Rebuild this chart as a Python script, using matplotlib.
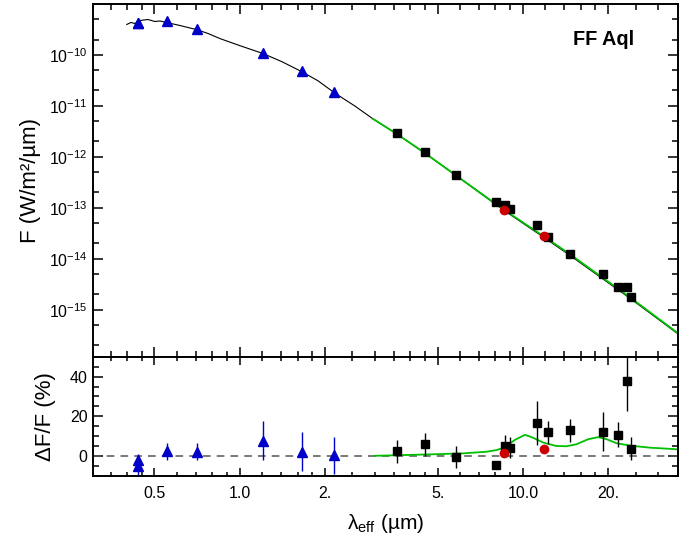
import matplotlib
matplotlib.use("Agg")
import matplotlib.pyplot as plt
import numpy as np

plt.rcParams['font.family'] = ['Liberation Sans', 'DejaVu Sans']
plt.rcParams['mathtext.fontset'] = 'custom'
plt.rcParams['mathtext.rm'] = 'Liberation Sans'
plt.rcParams['mathtext.it'] = 'Liberation Sans:italic'

# photosphere model (black)
lam_phot = [0.399, 0.413, 0.427, 0.444, 0.474, 0.502, 0.523, 0.552, 0.616, 0.667,
            0.703, 0.774, 0.851, 1.00, 1.21, 1.41, 1.65, 1.89, 2.17, 2.55, 2.96,
            3.58, 4.51, 5.80, 8.57, 11.89, 14.74, 24.05, 35.16]
f_phot = [3.94e-10, 4.32e-10, 4.12e-10, 4.72e-10, 4.94e-10, 4.51e-10, 4.62e-10, 4.31e-10,
          3.76e-10, 3.37e-10, 3.14e-10, 2.62e-10, 2.09e-10, 1.52e-10, 1.06e-10, 7.34e-11,
          4.73e-11, 3.10e-11, 1.77e-11, 9.93e-12, 5.52e-12,
          2.83e-12, 1.18e-12, 4.31e-13, 8.90e-14, 2.60e-14, 1.14e-14, 1.63e-15, 3.41e-16]

# model with envelope (green)
lam_env = [2.96, 3.58, 4.51, 5.80, 8.57, 11.89, 14.74, 24.05, 35.16]
f_env = [5.52e-12, 2.83e-12, 1.18e-12, 4.33e-13, 9.14e-14, 2.72e-14, 1.20e-14, 1.70e-15, 3.52e-16]

# visible / near-IR photometry (blue triangles)
lam_tri = [0.4386, 0.4386, 0.552, 0.705, 1.211, 1.655, 2.156]
f_tri = [4.28e-10, 4.16e-10, 4.55e-10, 3.18e-10, 1.09e-10, 4.88e-11, 1.90e-11]
res_tri = [-2.2, -4.8, 2.5, 2.2, 7.8, 2.2, 0.5]
err_tri = [3.5, 4.5, 4.3, 4.3, 10.0, 9.7, 9.3]

# infrared photometry (black squares)
lam_sq = [3.58, 4.51, 5.80, 8.01, 8.62, 9.00, 11.2, 12.3, 14.7, 19.2, 21.6, 23.3, 24.05]
f_sq = [2.92e-12, 1.22e-12, 4.48e-13, 1.29e-13, 1.11e-13, 9.55e-14, 4.54e-14, 2.63e-14,
        1.24e-14, 5.06e-15, 2.77e-15, 2.77e-15, 1.76e-15]
res_sq = [2.5, 6.0, -0.4, -4.6, 5.3, 4.2, 16.7, 11.9, 12.9, 12.3, 10.7, 37.8, 3.8]
err_sq = [5.8, 5.8, 5.5, 1.5, 5.5, 5.3, 11.0, 6.0, 6.0, 9.8, 6.3, 15.0, 5.6]

# red circles
lam_red = [8.57, 11.9]
f_red = [9.25e-14, 2.80e-14]
res_red = [1.7, 3.7]
err_red = [1.5, 1.5]

# residual of envelope model (green, lower panel)
lam_gres = [2.99, 4.70, 6.16, 7.44, 8.08, 8.64, 9.37, 10.16, 10.73, 11.8, 13.1, 14.26,
            15.47, 17.0, 18.45, 19.74, 21.4, 23.9, 28.1, 35.16]
gres = [0.15, 0.87, 1.38, 2.19, 3.06, 4.44, 8.16, 10.7, 9.54, 6.8, 5.1, 4.95,
        5.97, 8.5, 9.54, 8.5, 6.48, 5.27, 4.24, 3.42]

xmajor = [0.5, 1.0, 2.0, 5.0, 10.0, 20.0]
xlabels = ["0.5", "1.0", "2.", "5.", "10.0", "20."]
xminor = [0.35, 0.4, 0.45, 0.6, 0.7, 0.8, 0.9, 1.2, 1.4, 1.6, 1.8, 2.5, 3, 3.5, 4, 4.5,
          6, 7, 8, 9, 12, 14, 16, 18, 25, 30]

blue = '#0000c8'
red = '#cc0000'
green = '#00c000'

fig = plt.figure(figsize=(6.96, 5.42), dpi=100)
ax1 = fig.add_axes([0.134, 0.3419, 0.8397, 0.6501])
ax2 = fig.add_axes([0.134, 0.1218, 0.8397, 0.2201], sharex=ax1)

ax1.plot(lam_phot, f_phot, color='black', lw=0.8)
ax1.plot(lam_env, f_env, color=green, lw=1.3)
ax1.plot(lam_tri, f_tri, '^', color=blue, ms=7.5, mec=blue)
ax1.plot(lam_sq, f_sq, 's', color='black', ms=5.5)
ax1.plot(lam_red, f_red, 'o', color=red, ms=6)
ax1.set_xscale('log')
ax1.set_yscale('log')
ax1.set_xlim(0.304, 35.2)
ax1.set_ylim(1.2e-16, 9.8e-10)
ax1.set_yticks([1e-15, 1e-14, 1e-13, 1e-12, 1e-11, 1e-10])
ax1.set_yticklabels([r"$10^{-15}$", r"$10^{-14}$", r"$10^{-13}$",
                     r"$10^{-12}$", r"$10^{-11}$", r"$10^{-10}$"])
ax1.set_yticks([m * 10.0 ** e for e in range(-16, -9) for m in (2, 5)], minor=True)
ax1.set_ylabel("F (W/m²/µm)", fontsize=16, labelpad=6)
ax1.text(0.873, 0.901, "FF Aql", transform=ax1.transAxes, fontsize=14.3,
         fontweight='bold', ha='center', va='center')

ax2.axhline(0, color='#555555', ls=(0, (5, 4)), lw=1.1)
ax2.plot(lam_gres, gres, color=green, lw=1.3)
ax2.errorbar(lam_tri, res_tri, yerr=err_tri, fmt='^', color=blue, ms=7.5,
             elinewidth=1, capsize=0)
ax2.errorbar(lam_sq, res_sq, yerr=err_sq, fmt='s', color='black', ms=5.5,
             elinewidth=1, capsize=0)
ax2.errorbar(lam_red, res_red, yerr=err_red, fmt='o', color=red, ms=6,
             elinewidth=1, capsize=0)
ax2.set_ylim(-10, 50)
ax2.set_yticks([0, 20, 40])
ax2.set_yticks(np.arange(-10, 51, 5), minor=True)
ax2.set_ylabel("ΔF/F (%)", fontsize=16, labelpad=10)
ax2.set_xlabel(r"λ$_\mathrm{eff}$ (µm)", fontsize=15, labelpad=8)

ax2.set_xticks(xmajor)
ax2.set_xticklabels(xlabels)
ax2.set_xticks(xminor, minor=True)
ax2.xaxis.set_minor_formatter(matplotlib.ticker.NullFormatter())
plt.setp(ax1.get_xticklabels(), visible=False)
plt.setp(ax1.get_xticklabels(minor=True), visible=False)

for ax in (ax1, ax2):
    for s in ax.spines.values():
        s.set_linewidth(1.4)
    ax.tick_params(which='both', direction='in', top=True, right=True,
                   labelsize=11.5, width=1.1)
    ax.tick_params(which='major', length=7.5, pad=4)
    ax.tick_params(which='minor', length=4)
ax2.tick_params(axis='x', which='major', length=5.5, pad=7)
ax2.tick_params(axis='x', which='minor', length=3)

fig.savefig("out.png", dpi=100)
